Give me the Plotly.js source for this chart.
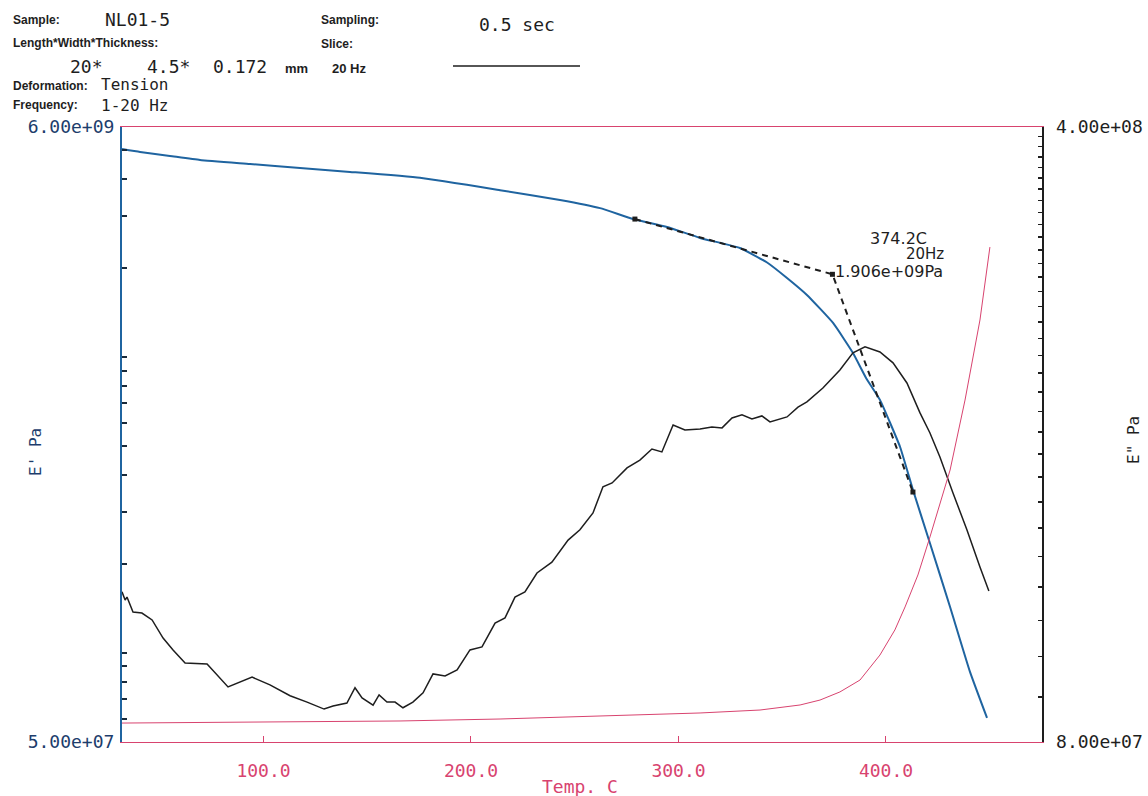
<!DOCTYPE html>
<html>
<head>
<meta charset="utf-8">
<script src="https://cdn.plot.ly/plotly-3.0.1.min.js"></script>
<style>html,body{margin:0;padding:0;background:#fff;}#chart{width:1148px;height:796px;}</style>
</head>
<body>
<div id="chart"></div>
<script>
// ---- Storage modulus E' (left log axis, Pa) ----
const tempEp = [31.8, 40.5, 54.9, 69.4, 93.5, 117.6, 141.7, 175.4, 214.0, 242.9, 262.2, 278.1, 294.5, 310.4, 329.6, 342.7, 352.3, 361.9, 374.5, 384.1, 390.4, 397.1, 406.8, 413.0, 421.2, 430.9, 440.5, 448.7];
const Eprime = [5.055e9, 4.94e9, 4.79e9, 4.64e9, 4.50e9, 4.36e9, 4.23e9, 4.04e9, 3.67e9, 3.40e9, 3.19e9, 2.93e9, 2.755e9, 2.53e9, 2.34e9, 2.09e9, 1.852e9, 1.623e9, 1.305e9, 1.033e9, 8.51e8, 7.17e8, 4.97e8, 3.56e8, 2.35e8, 1.43e8, 8.63e7, 6.03e7];

// ---- Loss modulus E'' (right log axis, Pa) ----
const tempEpp = [31.8, 33.3, 34.2, 35.2, 37.1, 41.4, 46.3, 51.6, 56.4, 62.2, 72.8, 82.9, 94.5, 103.1, 112.8, 121.0, 129.2, 133.5, 140.2, 144.1, 147.5, 152.8, 155.7, 159.5, 163.4, 167.2, 172.0, 176.9, 181.7, 187.5, 193.3, 199.5, 205.3, 211.6, 216.4, 221.2, 226.0, 231.8, 239.0, 246.8, 252.5, 258.8, 263.6, 268.0, 275.2, 281.4, 287.2, 292.0, 297.4, 303.1, 310.4, 316.1, 321.0, 325.8, 330.6, 335.4, 340.2, 344.1, 352.3, 357.6, 361.9, 369.6, 377.8, 384.1, 389.9, 397.1, 403.4, 410.1, 416.4, 421.2, 426.0, 432.3, 439.0, 445.3, 449.6];
const Edouble = [1.185e8, 1.160e8, 1.169e8, 1.151e8, 1.124e8, 1.121e8, 1.101e8, 1.050e8, 1.018e8, 9.84e7, 9.81e7, 9.24e7, 9.48e7, 9.29e7, 9.03e7, 8.88e7, 8.72e7, 8.79e7, 8.86e7, 9.22e7, 8.98e7, 8.81e7, 9.05e7, 8.88e7, 8.88e7, 8.75e7, 8.88e7, 9.10e7, 9.56e7, 9.51e7, 9.66e7, 1.018e8, 1.026e8, 1.092e8, 1.107e8, 1.169e8, 1.185e8, 1.245e8, 1.281e8, 1.357e8, 1.394e8, 1.457e8, 1.560e8, 1.576e8, 1.639e8, 1.673e8, 1.722e8, 1.709e8, 1.834e8, 1.810e8, 1.815e8, 1.824e8, 1.820e8, 1.868e8, 1.883e8, 1.863e8, 1.878e8, 1.849e8, 1.873e8, 1.922e8, 1.948e8, 2.020e8, 2.118e8, 2.215e8, 2.250e8, 2.220e8, 2.158e8, 2.047e8, 1.893e8, 1.796e8, 1.687e8, 1.535e8, 1.394e8, 1.265e8, 1.188e8];

// ---- Tan delta (unlabelled scale) ----
const tempTan = [31.8, 117.6, 165.8, 214.0, 262.2, 310.4, 339.3, 358.6, 368.2, 377.8, 387.5, 397.1, 404.3, 409.2, 415.4, 421.2, 430.9, 438.1, 445.3, 450.1];
const tanDelta = [0.0154, 0.0163, 0.0171, 0.0187, 0.0211, 0.0236, 0.0260, 0.0301, 0.0341, 0.0407, 0.0504, 0.0707, 0.0911, 0.1098, 0.1358, 0.1667, 0.2211, 0.2780, 0.3431, 0.4024];

// ---- Onset construction (tangent lines) ----
const tangentTemp = [279.0, 374.2, 413.0];
const tangentE = [2.93e9, 1.906e9, 3.50e8];

// ---- Axis ticks ----
const xTickVals = [100, 200, 300, 400];
const xTickText = ['100.0', '200.0', '300.0', '400.0'];
const leftTickVals = [5e7, 6e7, 7e7, 8e7, 9e7, 1e8, 2e8, 3e8, 4e8, 5e8, 6e8, 7e8, 8e8, 9e8, 1e9, 2e9, 3e9, 4e9, 5e9, 6e9];
const leftTickLabels = {5e7: '5.00e+07', 6e9: '6.00e+09'};
const rightTickVals = [8e7, 9e7, 1e8, 1.1e8, 1.2e8, 1.3e8, 1.4e8, 1.5e8, 1.6e8, 1.7e8, 1.8e8, 1.9e8, 2e8, 2.1e8, 2.2e8, 2.3e8, 2.4e8, 2.5e8, 2.6e8, 2.7e8, 2.8e8, 2.9e8, 3e8, 3.1e8, 3.2e8, 3.3e8, 3.4e8, 3.5e8, 3.6e8, 3.7e8, 3.8e8, 3.9e8, 4e8];
const rightTickLabels = {8e7: '8.00e+07', 4e8: '4.00e+08'};

const PINK = '#d8436f';
const BLUE = '#1f64a0';
const NAVY = '#1d3d6c';
const INK = '#1e1e1e';
const MONO = 'DejaVu Sans Mono, Liberation Mono, monospace';
const COND = 'Liberation Sans Narrow, Liberation Sans, Arial, sans-serif';

const traces = [
  {x: tempTan, y: tanDelta, yaxis: 'y3', type: 'scatter', mode: 'lines', line: {color: PINK, width: 1}, hoverinfo: 'skip'},
  {x: tempEpp, y: Edouble, yaxis: 'y2', type: 'scatter', mode: 'lines', line: {color: INK, width: 1.5}},
  {x: tempEp, y: Eprime, yaxis: 'y', type: 'scatter', mode: 'lines', line: {color: BLUE, width: 2, shape: 'spline', smoothing: 0.4}},
  {x: tangentTemp, y: tangentE, yaxis: 'y', type: 'scatter', mode: 'lines+markers', line: {color: INK, width: 2, dash: '6px,5px'}, marker: {symbol: 'square', size: 5, color: INK}}
];

function hdr(text, px, py, family, size, anchor) {
  return {text: text, xref: 'paper', yref: 'paper', x: (px - 122) / 920, y: (742 - py) / 615,
    xanchor: anchor || 'left', yanchor: 'middle', showarrow: false, borderpad: 0,
    font: {family: family, size: size, color: INK}};
}

const annotations = [
  hdr('<b>Sample:</b>', 12, 20, COND, 12),
  hdr('NL01-5', 104, 20, MONO, 18),
  hdr('<b>Length*Width*Thickness:</b>', 12, 43, COND, 12),
  hdr('20*', 69, 67, MONO, 18),
  hdr('4.5*', 146, 67, MONO, 18),
  hdr('0.172', 212, 67, MONO, 18),
  hdr('<b>mm</b>', 284, 68, COND, 13),
  hdr('<b>20 Hz</b>', 331, 68, COND, 13),
  hdr('<b>Deformation:</b>', 12, 86, COND, 12),
  hdr('Tension', 100, 85, MONO, 16),
  hdr('<b>Frequency:</b>', 12, 105, COND, 12),
  hdr('1-20 Hz', 100, 106, MONO, 16),
  hdr('<b>Sampling:</b>', 320, 20, COND, 12),
  hdr('<b>Slice:</b>', 320, 44, COND, 12),
  hdr('0.5 sec', 478, 24, MONO, 18),
  hdr('374.2C', 869, 238, 'DejaVu Sans, sans-serif', 16),
  hdr('20Hz', 905, 254, 'DejaVu Sans, sans-serif', 15),
  hdr('1.906e+09Pa', 834, 271, 'DejaVu Sans, sans-serif', 16),
  {text: "E' Pa", xref: 'paper', yref: 'paper', x: (35 - 122) / 920, y: (742 - 452) / 615, xanchor: 'center', yanchor: 'middle',
    textangle: -90, showarrow: false, font: {family: MONO, size: 16, color: NAVY}},
  {text: 'E" Pa', xref: 'paper', yref: 'paper', x: (1133 - 122) / 920, y: (742 - 440) / 615, xanchor: 'center', yanchor: 'middle',
    textangle: -90, showarrow: false, font: {family: MONO, size: 16, color: INK}},
  {text: 'Temp. C', xref: 'paper', yref: 'paper', x: (580 - 122) / 920, y: (742 - 786) / 615, xanchor: 'center', yanchor: 'middle',
    showarrow: false, font: {family: MONO, size: 18, color: PINK}}
];

const layout = {
  width: 1148, height: 796,
  margin: {l: 122, r: 106, t: 127, b: 54, pad: 0},
  paper_bgcolor: '#ffffff', plot_bgcolor: '#ffffff',
  showlegend: false,
  xaxis: {
    range: [31.8, 475.2], tickmode: 'array', tickvals: xTickVals, ticktext: xTickText,
    ticks: 'inside', ticklen: 6, tickwidth: 1, tickcolor: PINK,
    showline: true, linecolor: PINK, linewidth: 1, mirror: true,
    showgrid: false, zeroline: false, ticklabelstandoff: 12,
    tickfont: {family: MONO, size: 18, color: PINK}
  },
  yaxis: {
    type: 'log', range: [Math.log10(5e7), Math.log10(6e9)],
    tickmode: 'array', tickvals: leftTickVals, ticktext: leftTickVals.map(v => leftTickLabels[v] || ''),
    ticks: 'inside', ticklen: 5, tickwidth: 2, tickcolor: '#1a2a3a',
    showline: true, linecolor: BLUE, linewidth: 2,
    showgrid: false, zeroline: false, ticklabelstandoff: 2,
    tickfont: {family: MONO, size: 18, color: NAVY}
  },
  yaxis2: {
    type: 'log', range: [Math.log10(8e7), Math.log10(4e8)], overlaying: 'y', side: 'right',
    tickmode: 'array', tickvals: rightTickVals, ticktext: rightTickVals.map(v => rightTickLabels[v] || ''),
    ticks: 'inside', ticklen: 4, tickwidth: 1.5, tickcolor: INK,
    showline: true, linecolor: INK, linewidth: 1.5,
    showgrid: false, zeroline: false, ticklabelstandoff: 9,
    tickfont: {family: MONO, size: 18, color: INK}
  },
  yaxis3: {range: [0, 0.5], overlaying: 'y', visible: false, showgrid: false, zeroline: false},
  shapes: [
    {type: 'line', xref: 'paper', yref: 'paper', x0: (453 - 122) / 920, x1: (580 - 122) / 920,
      y0: (742 - 66) / 615, y1: (742 - 66) / 615, line: {color: INK, width: 1.5}}
  ],
  annotations: annotations
};

Plotly.newPlot('chart', traces, layout, {staticPlot: true, displayModeBar: false});
</script>
</body>
</html>
